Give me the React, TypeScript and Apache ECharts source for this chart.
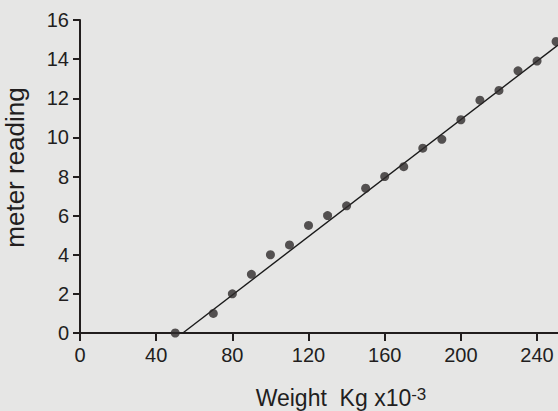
import React, { useEffect, useRef } from "react";
import * as echarts from "echarts";

const weights = [50, 70, 80, 90, 100, 110, 120, 130, 140, 150, 160, 170, 180, 190, 200, 210, 220, 230, 240, 250];
const readings = [0, 1, 2, 3, 4, 4.5, 5.5, 6, 6.5, 7.4, 8, 8.5, 9.45, 9.9, 10.9, 11.9, 12.4, 13.4, 13.9, 14.9];
const fitWeights = [54, 251];
const fitReadings = [0, 14.72];
const xTicks = [0, 40, 80, 120, 160, 200, 240];

export default function App() {
  const ref = useRef<HTMLDivElement>(null);
  useEffect(() => {
    if (!ref.current) return;
    const chart = echarts.init(ref.current, null, { renderer: "svg" });
    const ink = "#221e1e";
    const font = "'Liberation Sans', Arial, sans-serif";
    chart.setOption({
      animation: false,
      backgroundColor: "#e6e6e5",
      grid: { left: 80, top: 20, right: 0, bottom: 78, containLabel: false, outerBoundsMode: "none" },
      xAxis: {
        type: "value",
        min: 0,
        max: 251,
        interval: 40,
        name: "{m|Weight  Kg x10}{s|-3}",
        nameLocation: "middle",
        nameGap: 53,
        nameTextStyle: {
          padding: [0, 0, 0, 44],
          rich: {
            m: { fontSize: 23, lineHeight: 23, color: ink, fontFamily: font, padding: [5, 0, 0, 0], verticalAlign: "bottom" },
            s: { fontSize: 17, lineHeight: 17, color: ink, fontFamily: font, verticalAlign: "top" },
          },
        },
        axisLine: { onZero: false, lineStyle: { color: ink, width: 2 } },
        axisTick: { length: 8, lineStyle: { color: ink, width: 2 } },
        axisLabel: {
          margin: 12,
          fontSize: 20,
          color: ink,
          fontFamily: font,
          showMaxLabel: false,
          formatter: (v: number) => (xTicks.includes(v) ? String(v) : ""),
        },
        splitLine: { show: false },
      },
      yAxis: {
        type: "value",
        min: 0,
        max: 16,
        interval: 2,
        name: "meter reading",
        nameLocation: "middle",
        nameGap: 52,
        nameTextStyle: { fontSize: 26, color: ink, fontFamily: font, padding: [0, 0, 0, 18] },
        axisLine: { onZero: false, lineStyle: { color: ink, width: 2 } },
        axisTick: { length: 7, lineStyle: { color: ink, width: 2 } },
        axisLabel: { margin: 11, fontSize: 20, color: ink, fontFamily: font },
        splitLine: { show: false },
      },
      series: [
        {
          type: "line",
          data: fitWeights.map((w, i) => [w, fitReadings[i]]),
          symbol: "none",
          lineStyle: { color: "#1a1a1a", width: 1.4 },
          z: 2,
        },
        {
          type: "scatter",
          data: weights.map((w, i) => [w, readings[i]]),
          symbol: "circle",
          symbolSize: 9,
          itemStyle: { color: "#2e2b2b" },
          z: 3,
        },
      ],
    });
    return () => chart.dispose();
  }, []);
  return <div ref={ref} style={{ position: "fixed", left: 0, top: 0, width: 558, height: 411 }} />;
}
